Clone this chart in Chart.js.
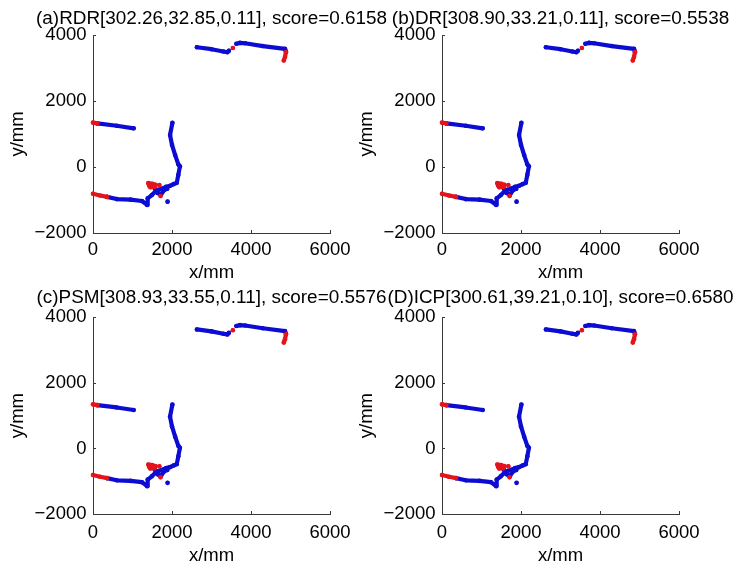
<!DOCTYPE html>
<html>
<head>
<meta charset="utf-8">
<script src="https://cdn.jsdelivr.net/npm/chart.js@4.4.1/dist/chart.umd.min.js"></script>
<style>
  html, body { margin: 0; padding: 0; background: #fff; overflow: hidden; }
  #wrap { position: relative; width: 740px; height: 568px; overflow: hidden; }
  canvas { position: absolute; }
</style>
</head>
<body>
<div id="wrap">
  <canvas id="panelA" width="423" height="284" style="left:0px;top:0px"></canvas>
  <canvas id="panelB" width="423" height="284" style="left:349px;top:0px"></canvas>
  <canvas id="panelC" width="423" height="284" style="left:0px;top:284px"></canvas>
  <canvas id="panelD" width="423" height="284" style="left:349px;top:284px"></canvas>
</div>
<script>
// panel titles (same scan, four matchers)
const panelTitles = [
    '(a)RDR[302.26,32.85,0.11], score=0.6158',
    '(b)DR[308.90,33.21,0.11], score=0.5538',
    '(c)PSM[308.93,33.55,0.11], score=0.5576',
    '(D)ICP[300.61,39.21,0.10], score=0.6580'
];

const xTicks = [0, 2000, 4000, 6000];
const yTicks = [-2000, 0, 2000, 4000];

// scan points, [x mm, y mm]; each inner list is one run
const blueTracks = [
    [[2630, 3630], [3000, 3570], [3300, 3500], [3400, 3478], [3440, 3525]],
    [[3630, 3735], [3720, 3760], [3850, 3750], [4300, 3665], [4860, 3580], [4885, 3500]],
    [[110, 1320], [600, 1250], [1030, 1172]],
    [[354, -905], [600, -972], [950, -990], [1240, -1030], [1370, -1150], [1385, -950],
     [1490, -850], [1580, -740], [1650, -690], [1760, -650], [1850, -600], [1950, -570],
     [2040, -520], [2120, -480], [2160, -240], [2200, 20], [2160, 80], [2080, 360],
     [2000, 670], [1950, 970], [2010, 1340]],
    [[1560, -640], [1640, -790], [1720, -840], [1800, -700], [1880, -660]],
    [[1888, -1050]]
];

const redTracks = [
    [[0, 1345], [110, 1322]],
    [[0, -810], [180, -865], [354, -905]],
    [[3541, 3606]],
    [[4885, 3480], [4860, 3330], [4830, 3230]],
    [[1400, -490], [1500, -510], [1580, -540], [1560, -600], [1450, -610], [1420, -560]],
    [[1680, -545]],
    [[1710, -880]]
];

const BLUE = '#0c0cd2';
const RED = '#e4141a';
const AXIS = '#3a3a3a';
const FONT = "'Liberation Sans', Arial, sans-serif";

function toPoints(tracks) {
    const pts = [];
    tracks.forEach(seg => {
        seg.forEach(p => pts.push({ x: p[0], y: p[1] }));
        pts.push({ x: null, y: null });
    });
    return pts;
}

function trackStyle(color) {
    return {
        showLine: true,
        borderColor: color,
        backgroundColor: color,
        borderWidth: 4.2,
        borderCapStyle: 'round',
        borderJoinStyle: 'round',
        pointRadius: 2.3,
        pointBorderWidth: 0,
        spanGaps: false,
        clip: false
    };
}

const fmt = v => String(v).replace('-', '\u2212');

// matlab style inward tick marks
const inwardTicks = {
    id: 'inwardTicks',
    afterDatasetsDraw(chart) {
        const { ctx, chartArea, scales } = chart;
        ctx.save();
        ctx.strokeStyle = AXIS;
        ctx.lineWidth = 1;
        ctx.beginPath();
        xTicks.forEach(v => {
            const px = Math.round(scales.x.getPixelForValue(v)) + 0.5;
            ctx.moveTo(px, chartArea.bottom);
            ctx.lineTo(px, chartArea.bottom - 3);
        });
        yTicks.forEach(v => {
            const py = Math.round(scales.y.getPixelForValue(v)) + 0.5;
            ctx.moveTo(chartArea.left, py);
            ctx.lineTo(chartArea.left + 3, py);
        });
        ctx.stroke();
        ctx.restore();
    }
};

// title centred over the axes, allowed to run past the panel like matlab does
const axesTitle = {
    id: 'axesTitle',
    afterDraw(chart, args, opts) {
        const { ctx, chartArea } = chart;
        ctx.save();
        ctx.fillStyle = '#000';
        ctx.font = '18.9px ' + FONT;
        ctx.textAlign = 'center';
        ctx.textBaseline = 'middle';
        ctx.fillText(opts.text, (chartArea.left + chartArea.right) / 2, opts.y);
        ctx.restore();
    }
};

const upper = { top: 35, titleY: 19, xHeight: 51, xTickPad: 5.9, xTitlePad: 0 };
const lower = { top: 33.3, titleY: 13.5, xHeight: 54, xTickPad: 8.2, xTitlePad: 0.9 };

function makePanel(id, title, geo) {
    const font = { family: FONT, size: 18.5 };
    new Chart(document.getElementById(id), {
        type: 'scatter',
        data: {
            datasets: [
                Object.assign({ data: toPoints(redTracks) }, trackStyle(RED)),
                Object.assign({ data: toPoints(blueTracks) }, trackStyle(BLUE))
            ]
        },
        options: {
            responsive: false,
            animation: false,
            devicePixelRatio: 1,
            layout: { padding: { left: 0, right: 93, top: geo.top, bottom: 0 } },
            plugins: {
                legend: { display: false },
                tooltip: { enabled: false },
                axesTitle: { text: title, y: geo.titleY }
            },
            scales: {
                x: {
                    type: 'linear',
                    min: 0,
                    max: 6000,
                    afterBuildTicks: s => { s.ticks = xTicks.map(v => ({ value: v })); },
                    afterFit: s => { s.height = geo.xHeight; },
                    grid: { display: false, drawTicks: false },
                    border: { display: true, color: AXIS, width: 1 },
                    ticks: { padding: geo.xTickPad, color: '#000', font: font, maxRotation: 0, autoSkip: false, callback: fmt },
                    title: { display: true, text: 'x/mm', color: '#000', font: font, padding: { top: 0, bottom: geo.xTitlePad } }
                },
                y: {
                    type: 'linear',
                    min: -2000,
                    max: 4000,
                    afterBuildTicks: s => { s.ticks = yTicks.map(v => ({ value: v })); },
                    afterFit: s => { s.width = 93; },
                    grid: { display: false, drawTicks: false },
                    border: { display: true, color: AXIS, width: 1 },
                    ticks: { padding: 6.5, color: '#000', font: font, autoSkip: false, callback: fmt },
                    title: { display: true, text: 'y/mm', color: '#000', font: font, padding: { top: 6.4, bottom: 0 } }
                }
            }
        },
        plugins: [inwardTicks, axesTitle]
    });
}

makePanel('panelA', panelTitles[0], upper);
makePanel('panelB', panelTitles[1], upper);
makePanel('panelC', panelTitles[2], lower);
makePanel('panelD', panelTitles[3], lower);
</script>
</body>
</html>
